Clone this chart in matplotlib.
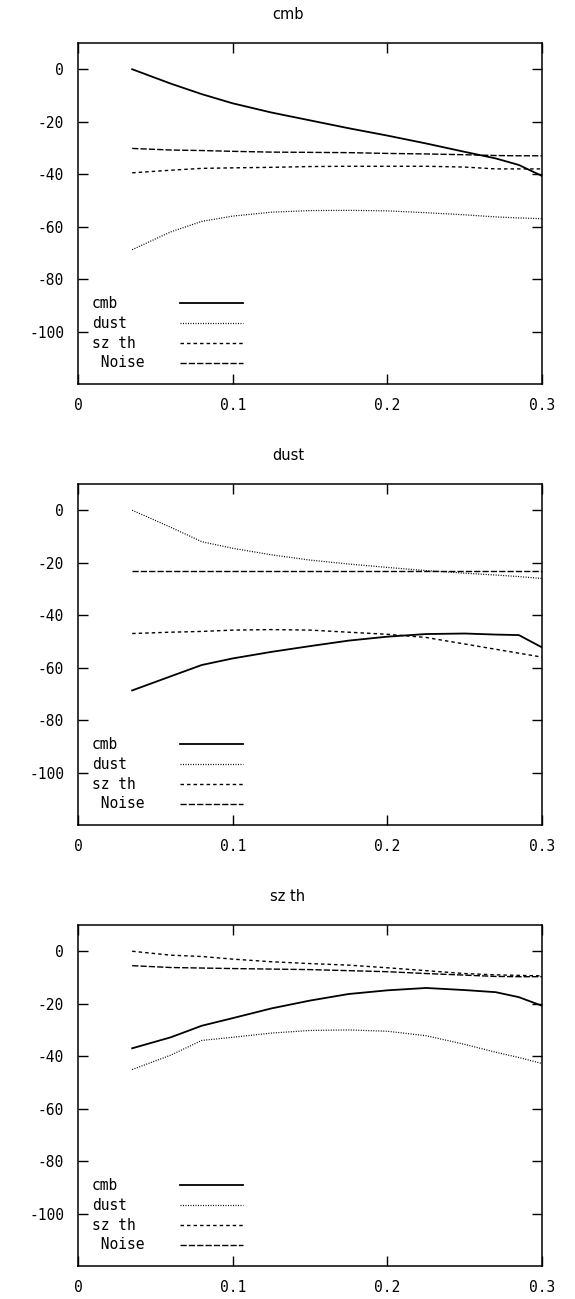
import matplotlib
matplotlib.use("Agg")
import matplotlib.pyplot as plt
from matplotlib.ticker import FuncFormatter

plt.rcParams['font.family'] = ['DejaVu Sans Mono']
plt.rcParams['font.size'] = 10.5
plt.rcParams['axes.unicode_minus'] = False

# common sampling points along x
x = [0.035, 0.06, 0.08, 0.1, 0.125, 0.15, 0.175, 0.2, 0.225, 0.25, 0.27, 0.285, 0.3]

names = ['cmb', 'dust', 'sz th', 'Noise']

# panel "cmb"
cmb_cmb = [0, -5.5, -9.5, -13, -16.5, -19.5, -22.5, -25.3, -28.3, -31.5, -34, -36.5, -40.7]
cmb_dust = [-68.8, -62, -58, -56, -54.5, -53.9, -53.8, -54, -54.7, -55.5, -56.3, -56.7, -57]
cmb_sz = [-39.5, -38.5, -37.8, -37.6, -37.4, -37.1, -37, -37, -37, -37.3, -38, -38, -38]
cmb_noise = [-30.2, -30.8, -31, -31.3, -31.6, -31.7, -31.8, -32.1, -32.3, -32.6, -32.9, -33, -33]

# panel "dust"
dust_cmb = [-68.7, -63.3, -59, -56.5, -54, -51.8, -49.7, -48.2, -47.2, -47, -47.4, -47.6, -52.3]
dust_dust = [0, -6.5, -12, -14.5, -17, -19, -20.5, -21.8, -23, -24, -24.7, -25.3, -26]
dust_sz = [-47, -46.5, -46.2, -45.7, -45.5, -45.7, -46.5, -47.3, -48.5, -51, -53, -54.5, -56]
dust_noise = [-23, -23, -23, -23, -23, -23, -23, -23, -23, -23, -23, -23, -23]

# panel "sz th"
sz_cmb = [-37, -32.8, -28.4, -25.5, -21.8, -18.8, -16.3, -14.9, -14, -14.8, -15.6, -17.5, -20.8]
sz_dust = [-45.1, -39.6, -34, -32.8, -31.2, -30.2, -30, -30.5, -32.2, -35.5, -38.5, -40.5, -42.8]
sz_sz = [0, -1.5, -2, -3, -4, -4.7, -5.3, -6.3, -7.4, -8.5, -9, -9.2, -9.4]
sz_noise = [-5.5, -6.2, -6.4, -6.6, -6.8, -7, -7.4, -7.8, -8.5, -9.1, -9.6, -9.7, -9.7]

panels = [
    ('cmb', [cmb_cmb, cmb_dust, cmb_sz, cmb_noise]),
    ('dust', [dust_cmb, dust_dust, dust_sz, dust_noise]),
    ('sz th', [sz_cmb, sz_dust, sz_sz, sz_noise]),
]

styles = [
    dict(linestyle='-', linewidth=1.3),
    dict(linestyle=(0, (0.8, 1.2)), linewidth=0.9),
    dict(linestyle=(0, (2.5, 2.2)), linewidth=1.0),
    dict(linestyle=(0, (4.5, 1.5)), linewidth=1.0),
]
labels = ['cmb', 'dust', 'sz th', ' Noise']

fig = plt.figure(figsize=(5.75, 12.99), dpi=100)

bottoms = [0.7044, 0.3649, 0.0254]
for (title, series), b in zip(panels, bottoms):
    ax = fig.add_axes([0.1357, b, 0.807, 0.2625])
    for ys, st in zip(series, styles):
        ax.plot(x, ys, color='black', **st)
    ax.set_xlim(0, 0.3)
    ax.set_ylim(-120, 10)
    ax.set_xticks([0, 0.1, 0.2, 0.3])
    ax.set_yticks([0, -20, -40, -60, -80, -100])
    ax.xaxis.set_major_formatter(FuncFormatter(lambda v, p: '0' if v == 0 else '%.1f' % v))
    ax.tick_params(direction='in', length=7, width=1, top=True, right=True, pad=10)
    for sp in ax.spines.values():
        sp.set_linewidth(1.1)
    # title is centred on the whole canvas, not the axes
    ax.set_title(title, x=0.4526, pad=17, family='DejaVu Sans', fontsize=10.5)

    # key in the lower left corner
    rows = [0.2367, 0.178, 0.120, 0.0625]
    for lab, st, yy in zip(labels, styles, rows):
        ax.text(0.030, yy, lab, transform=ax.transAxes, va='center', ha='left')
        ax.plot([0.22, 0.356], [yy, yy], transform=ax.transAxes, color='black', **st)

fig.savefig('out.png', dpi=100)
